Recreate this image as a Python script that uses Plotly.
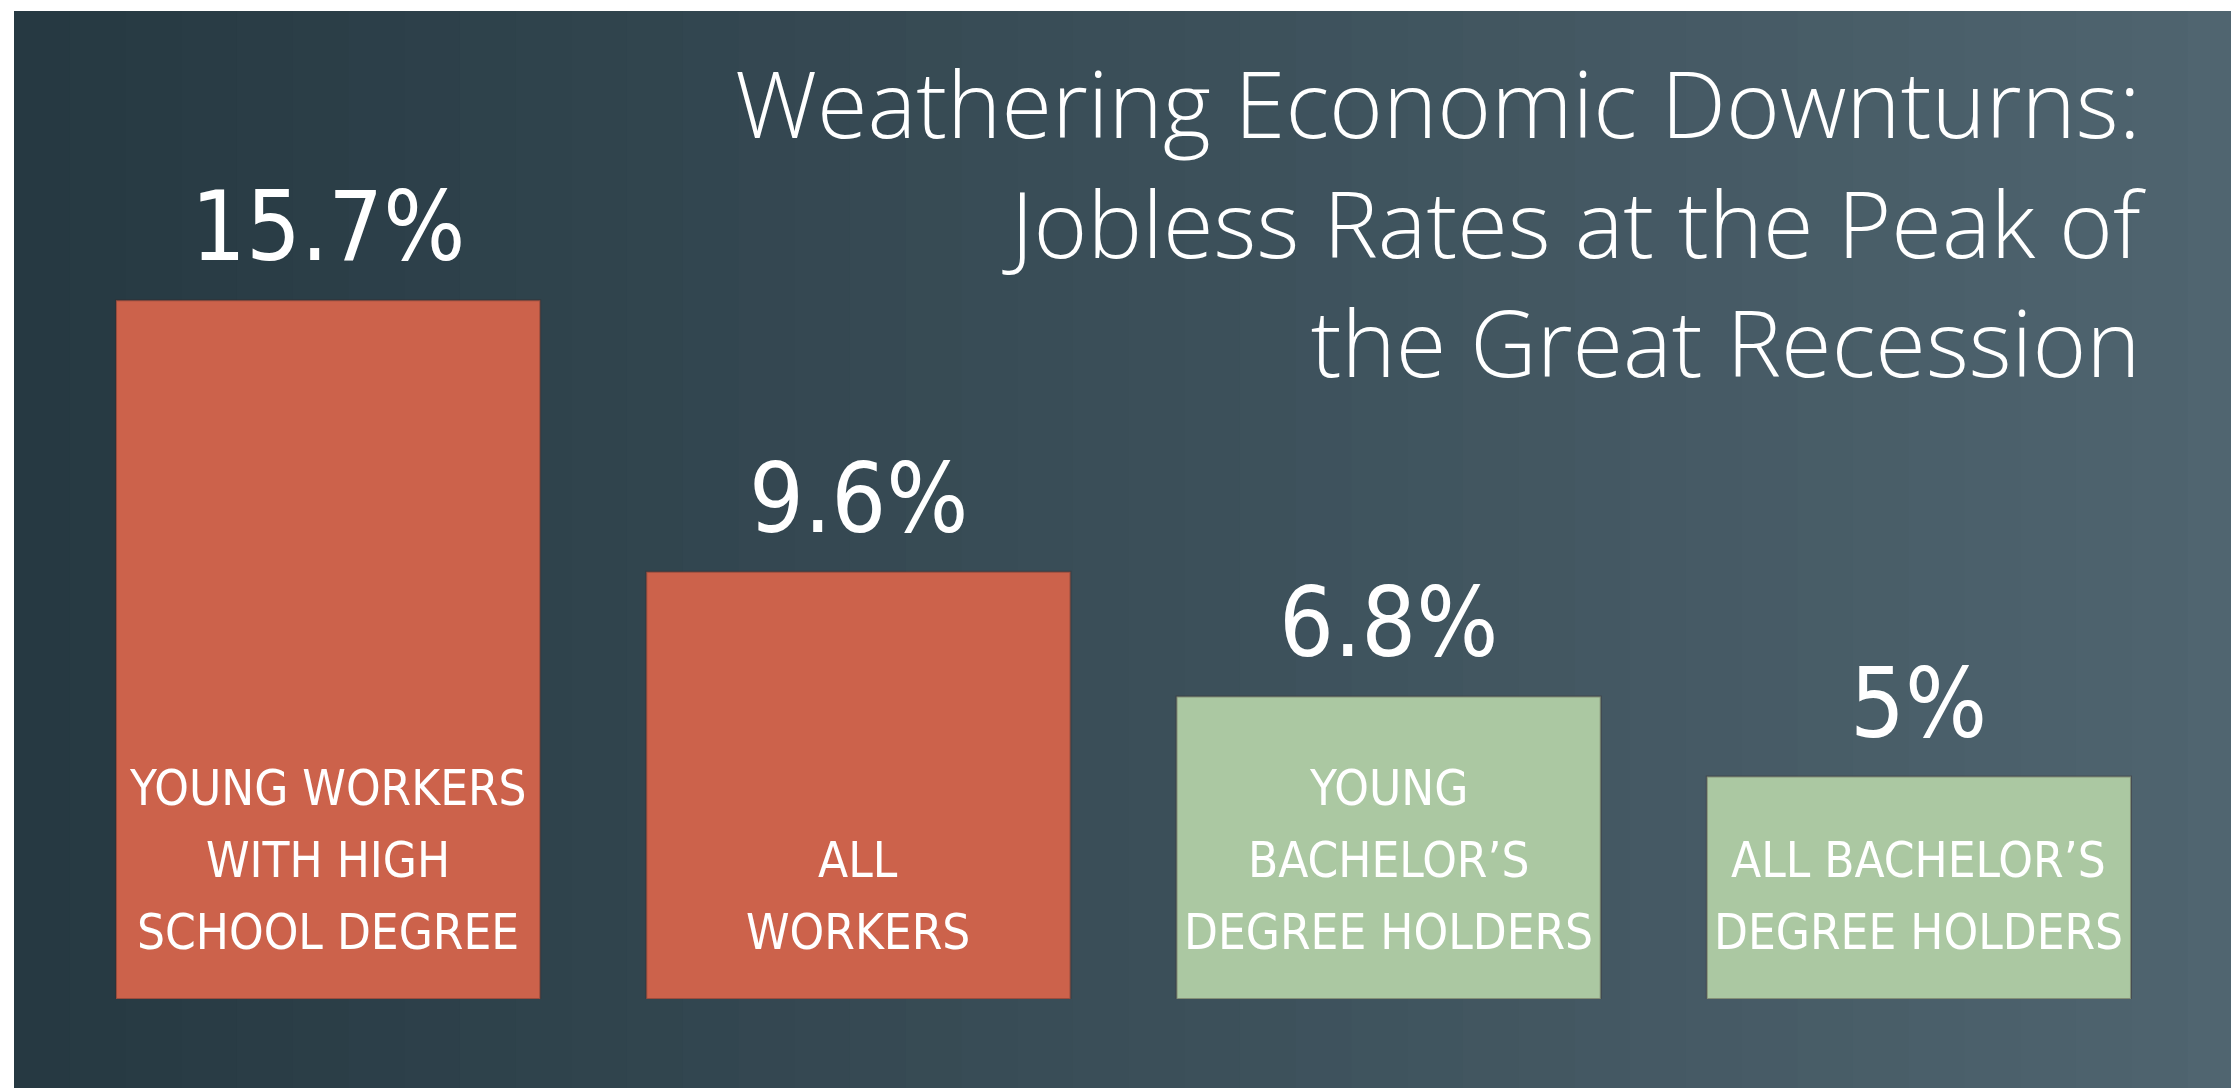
import plotly.graph_objects as go

categories = ["YOUNG WORKERS<br>WITH HIGH<br>SCHOOL DEGREE", "ALL<br>WORKERS",
              "YOUNG<br>BACHELOR’S<br>DEGREE HOLDERS", "ALL BACHELOR’S<br>DEGREE HOLDERS"]
values = [15.7, 9.6, 6.8, 5.0]
value_labels = ["15.7%", "9.6%", "6.8%", "5%"]
bar_colors = ["#cc624b", "#cc624b", "#abc8a2", "#abc8a2"]
title_text = "Weathering Economic Downturns:<br>Jobless Rates at the Peak of<br>the Great Recession"

COND = "Liberation Sans Narrow, DejaVu Sans Condensed, Roboto Condensed, Arial Narrow, sans-serif"

x_idx = list(range(len(categories)))

fig = go.Figure()
fig.add_trace(go.Bar(
    x=x_idx, y=values,
    marker=dict(color=bar_colors, line=dict(color="rgba(60,40,40,0.35)", width=2)),
    width=0.8, hoverinfo="skip", showlegend=False,
))

# chalkboard gradient background
shapes = []
n = 40
x0p, x1p = -0.0231, 1.0278
y0p, y1p = -0.1034, 1.110
c0 = (38, 57, 66)
c1 = (80, 101, 112)
for i in range(n):
    t = i / (n - 1)
    c = tuple(int(c0[k] + (c1[k] - c0[k]) * t) for k in range(3))
    xa = x0p + (x1p - x0p) * i / n
    xb = x0p + (x1p - x0p) * (i + 1) / n + 0.001
    shapes.append(dict(type="rect", xref="paper", yref="paper", x0=xa, x1=min(xb, x1p),
                       y0=y0p, y1=y1p, fillcolor="rgb(%d,%d,%d)" % c,
                       line=dict(width=0), layer="below"))

annotations = []
LINE_STEP = 72
for xi, v, lab, cat in zip(x_idx, values, value_labels, categories):
    annotations.append(dict(x=xi, y=v, xref="x", yref="y", text=lab, showarrow=False,
                            yanchor="bottom", yshift=15,
                            font=dict(family=COND, size=96, color="white")))
    lines = cat.split("<br>")
    for k, line in enumerate(reversed(lines)):
        annotations.append(dict(x=xi, y=0, xref="x", yref="y", text=line, showarrow=False,
                                yanchor="middle", yshift=67 + k * LINE_STEP, align="center",
                                font=dict(family=COND, size=49, color="white")))

annotations.append(dict(x=0.983, y=1.08, xref="paper", yref="paper", text=title_text,
                        showarrow=False, xanchor="right", yanchor="top", align="right",
                        font=dict(family="Open Sans, Lato, sans-serif", size=92,
                                  color="white", weight=300)))

fig.update_layout(
    width=2239, height=1088,
    margin=dict(l=55, r=63, t=101, b=97),
    paper_bgcolor="white",
    plot_bgcolor="rgba(0,0,0,0)",
    xaxis=dict(range=[-0.5, 3.5], visible=False, fixedrange=True),
    yaxis=dict(range=[0, 20], visible=False, fixedrange=True),
    shapes=shapes,
    annotations=annotations,
    bargap=0.2,
)

fig.write_html("out.html")
